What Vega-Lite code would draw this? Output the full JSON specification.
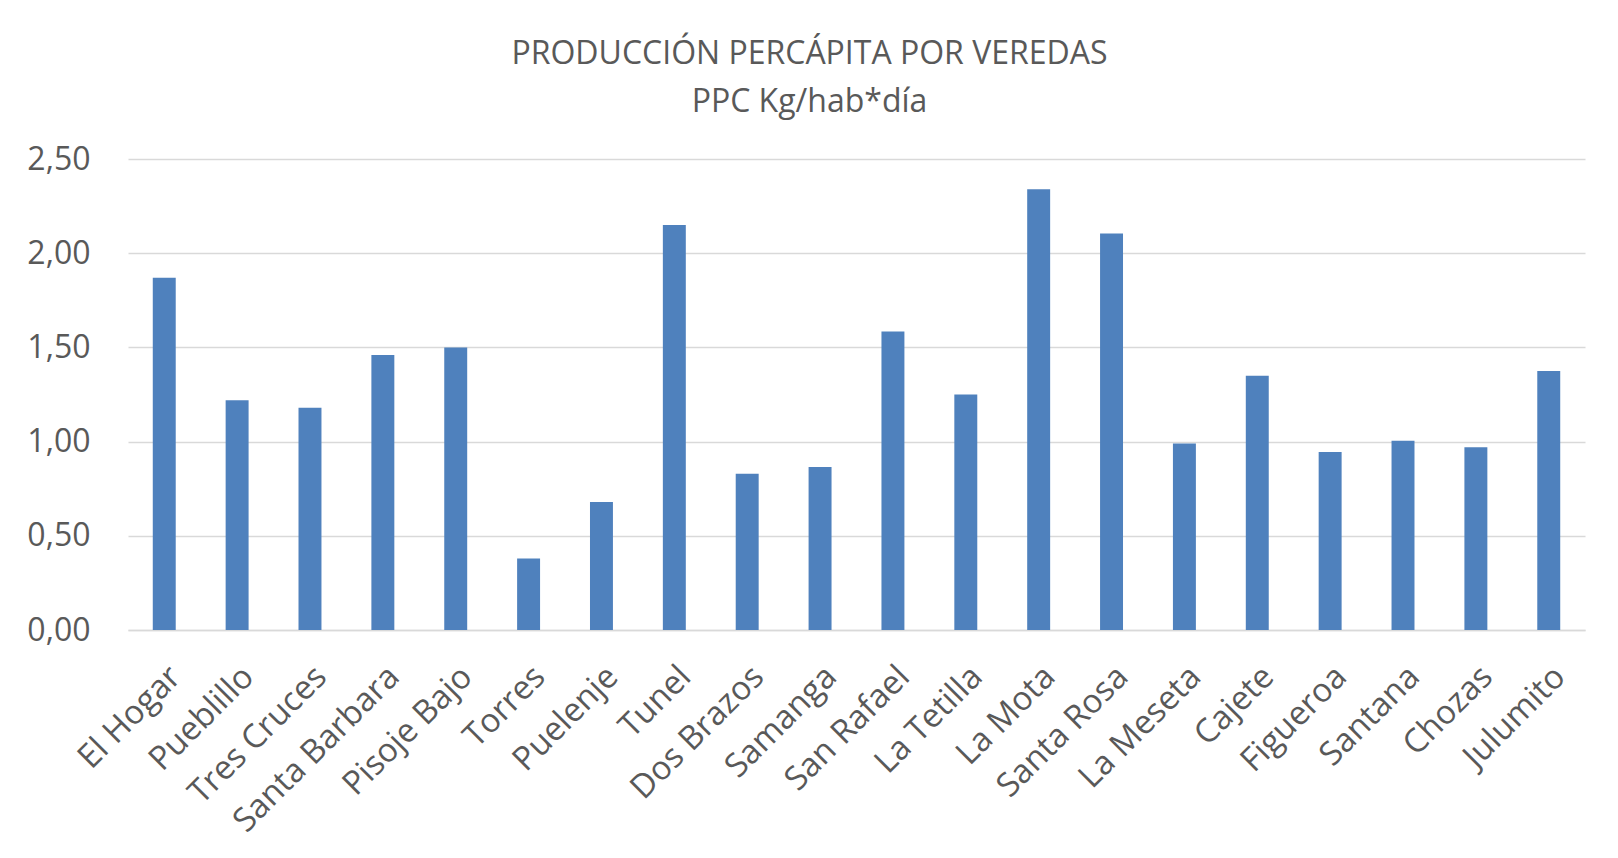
{
  "$schema": "https://vega.github.io/schema/vega-lite/v6.json",
  "width": 1457,
  "height": 471,
  "autosize": {"type": "none"},
  "padding": {"left": 128, "top": 159, "right": 33, "bottom": 228},
  "background": "white",
  "title": {
    "text": ["PRODUCCIÓN PERCÁPITA POR VEREDAS", "PPC Kg/hab*día"],
    "font": "Open Sans",
    "fontSize": 32,
    "fontWeight": "normal",
    "color": "#595959",
    "lineHeight": 48,
    "anchor": "middle",
    "dx": -47,
    "offset": 24
  },
  "config": {
    "locale": {"number": {"decimal": ",", "thousands": ".", "grouping": [3], "currency": ["$", ""]}},
    "view": {"stroke": null},
    "font": "Open Sans"
  },
  "data": {
    "values": [
      {"vereda": "El Hogar", "ppc": 1.87},
      {"vereda": "Pueblillo", "ppc": 1.22},
      {"vereda": "Tres Cruces", "ppc": 1.18},
      {"vereda": "Santa Barbara", "ppc": 1.46},
      {"vereda": "Pisoje Bajo", "ppc": 1.50},
      {"vereda": "Torres", "ppc": 0.38},
      {"vereda": "Puelenje", "ppc": 0.68},
      {"vereda": "Tunel", "ppc": 2.15},
      {"vereda": "Dos Brazos", "ppc": 0.83},
      {"vereda": "Samanga", "ppc": 0.865},
      {"vereda": "San Rafael", "ppc": 1.585},
      {"vereda": "La Tetilla", "ppc": 1.25},
      {"vereda": "La Mota", "ppc": 2.34},
      {"vereda": "Santa Rosa", "ppc": 2.105},
      {"vereda": "La Meseta", "ppc": 0.99},
      {"vereda": "Cajete", "ppc": 1.35},
      {"vereda": "Figueroa", "ppc": 0.945},
      {"vereda": "Santana", "ppc": 1.005},
      {"vereda": "Chozas", "ppc": 0.97},
      {"vereda": "Julumito", "ppc": 1.375}
    ]
  },
  "mark": {"type": "bar", "color": "#4f81bd"},
  "encoding": {
    "x": {
      "field": "vereda",
      "type": "nominal",
      "sort": null,
      "scale": {"paddingInner": 0.685, "paddingOuter": 0.34},
      "axis": {
        "title": null,
        "labelAngle": -45,
        "labelFont": "Open Sans",
        "labelFontSize": 33,
        "labelColor": "#595959",
        "labelPadding": 30,
        "labelLimit": 0,
        "labelOverlap": false,
        "ticks": false,
        "domain": true,
        "domainColor": "#d9d9d9",
        "domainWidth": 1.5,
        "grid": false
      }
    },
    "y": {
      "field": "ppc",
      "type": "quantitative",
      "scale": {"domain": [0, 2.5], "nice": false},
      "axis": {
        "title": null,
        "values": [0, 0.5, 1, 1.5, 2, 2.5],
        "format": ".2f",
        "labelFont": "Open Sans",
        "labelFontSize": 32,
        "labelColor": "#595959",
        "labelPadding": 38,
        "ticks": false,
        "domain": false,
        "grid": true,
        "gridColor": "#d9d9d9",
        "gridWidth": 1.5
      }
    }
  }
}
